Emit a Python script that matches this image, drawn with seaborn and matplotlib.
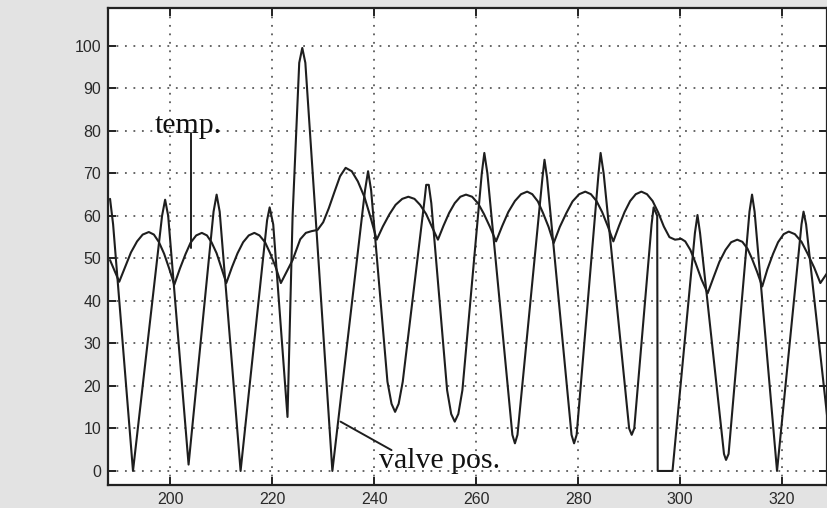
import matplotlib
matplotlib.use("Agg")
import seaborn as sns
from matplotlib import pyplot as plt

# valve position (x = sample, y = %)
valve_x = [188.2, 188.8, 192.7, 198.4, 199.0, 199.6, 203.6, 208.5, 209.1, 209.7,
           213.8, 219.0, 219.5, 220.2, 223.0, 224.0, 225.3, 225.9, 226.5, 228.5,
           231.8, 238.2, 238.8, 239.4, 242.6, 243.4, 244.1, 244.8, 245.6, 249.9,
           250.2, 250.7, 251.2, 254.3, 255.1, 255.8, 256.5, 257.3, 261.1, 261.6,
           262.2, 267.1, 267.6, 268.1, 273.0, 273.4, 273.9, 278.7, 279.2, 279.7,
           284.0, 284.4, 285.0, 290.0, 290.5, 291.0, 294.4, 294.8, 295.5, 295.6,
           298.5, 302.9, 303.4, 303.9, 308.6, 309.0, 309.5, 313.6, 314.1, 314.6,
           319.0, 323.8, 324.2, 324.7, 330.0]
valve_y = [64.0, 58.0, 0.0, 60.0, 63.8, 60.0, 1.5, 61.0, 65.0, 61.0,
           0.0, 59.0, 62.0, 58.0, 12.7, 60.0, 96.0, 99.5, 96.0, 60.0,
           0.0, 66.0, 70.5, 66.0, 21.0, 15.8, 13.9, 15.8, 21.0, 64.0,
           67.3, 67.3, 63.0, 19.0, 13.4, 11.6, 13.4, 19.0, 70.0, 74.8,
           70.0, 8.5, 6.5, 8.5, 69.0, 73.2, 69.0, 8.5, 6.5, 8.5,
           70.0, 74.8, 70.0, 10.0, 8.5, 10.0, 58.0, 62.0, 60.0, 0.0,
           0.0, 56.0, 60.2, 56.0, 4.0, 2.6, 4.0, 61.0, 65.0, 61.0,
           0.0, 58.0, 61.0, 58.0, 0.0]

# temperature trace
temp_x = [188.2, 190.0, 191.2, 192.3, 193.5, 194.6, 195.8, 196.8, 197.8, 198.8,
          199.8, 200.8, 201.9, 203.0, 204.0, 205.1, 206.2, 207.2, 208.1, 209.1,
          210.0, 211.0, 212.1, 213.2, 214.3, 215.4, 216.5, 217.5, 218.6, 219.6,
          220.7, 221.7, 224.0, 225.5, 226.6, 227.7, 228.9, 230.0, 231.1, 232.2,
          233.3, 234.4, 235.6, 236.8, 238.1, 239.3, 240.5, 241.7, 243.0, 244.2,
          245.5, 246.7, 247.9, 249.0, 250.2, 251.3, 252.5, 253.6, 254.7, 255.8,
          256.9, 258.0, 259.2, 260.4, 261.5, 262.7, 263.9, 265.1, 266.3, 267.6,
          268.8, 270.0, 271.0, 272.1, 273.1, 274.2, 275.2, 276.4, 277.7, 278.9,
          280.2, 281.4, 282.5, 283.6, 284.7, 285.8, 286.9, 288.0, 289.1, 290.2,
          291.3, 292.4, 293.5, 294.6, 295.7, 296.8, 297.9, 299.0, 300.2, 301.0,
          302.0, 303.0, 304.2, 305.4, 306.6, 307.7, 308.9, 310.0, 311.2, 312.2,
          313.2, 314.1, 315.1, 316.1, 317.1, 318.2, 319.2, 320.3, 321.3, 322.5,
          323.8, 325.0, 326.3, 327.5, 328.8]
temp_y = [49.6, 44.5, 48.1, 51.4, 54.0, 55.6, 56.2, 55.6, 53.8, 51.1,
          47.6, 43.8, 47.6, 51.0, 53.7, 55.4, 56.0, 55.4, 53.8, 51.2,
          47.9, 44.2, 47.9, 51.2, 53.8, 55.4, 56.0, 55.4, 53.8, 51.2,
          47.9, 44.2, 49.6, 54.5, 56.0, 56.4, 56.7, 58.5, 61.8, 65.6,
          69.3, 71.3, 70.5, 68.1, 64.4, 59.6, 54.4, 57.5, 60.4, 62.6,
          64.0, 64.5, 64.0, 62.6, 60.4, 57.5, 54.4, 57.7, 60.7, 63.0,
          64.5, 65.0, 64.5, 62.9, 60.5, 57.4, 54.0, 57.6, 60.9, 63.5,
          65.1, 65.7, 65.1, 63.4, 60.7, 57.4, 53.6, 57.4, 60.7, 63.4,
          65.1, 65.7, 65.1, 63.5, 60.9, 57.6, 54.0, 57.6, 60.9, 63.5,
          65.1, 65.7, 65.1, 63.5, 60.8, 57.5, 55.0, 54.4, 54.6, 54.0,
          52.0, 49.0, 45.0, 41.8, 45.7, 49.2, 52.0, 53.8, 54.4, 53.9,
          52.3, 49.9, 46.8, 43.4, 47.4, 51.0, 53.8, 55.7, 56.3, 55.7,
          53.9, 51.1, 47.8, 44.2, 46.5]

x_ticks = [200, 220, 240, 260, 280, 300, 320]
y_ticks = [0, 10, 20, 30, 40, 50, 60, 70, 80, 90, 100]

sns.set_style("ticks")
plt.rcParams["font.family"] = ["Liberation Sans", "DejaVu Sans"]

fig = plt.figure(figsize=(8.27, 5.08), dpi=100, facecolor="#e3e3e3")
ax = fig.add_axes([0.1306, 0.0453, 0.8694, 0.939])
ax.set_facecolor("white")

line_color = "#1e1e1e"
sns.lineplot(x=valve_x, y=valve_y, estimator=None, sort=False, ax=ax,
             color=line_color, linewidth=1.5)
sns.lineplot(x=temp_x, y=temp_y, estimator=None, sort=False, ax=ax,
             color=line_color, linewidth=1.5)

ax.set_xlim(187.8, 328.8)
ax.set_ylim(-3.3, 108.9)
ax.set_xticks(x_ticks)
ax.set_yticks(y_ticks)
ax.grid(True, color="#5a5a5a", linestyle=(0, (1, 3.7)), linewidth=1.3)
ax.tick_params(direction="in", length=6, width=1.4, colors="#222222",
               labelcolor="#2a2a2a", labelsize=11.5, top=True, right=True, pad=5)
for side in ["left", "bottom", "top", "right"]:
    ax.spines[side].set_color("#222222")
    ax.spines[side].set_linewidth(1.6)

# labels with leader lines
serif = ["Liberation Serif", "DejaVu Serif"]
ax.text(196.9, 79.5, "temp.", family=serif, fontsize=21.5, color="#111111")
ax.plot([204.0, 204.0], [79.5, 52.4], color=line_color, linewidth=1.4)
ax.text(240.9, 0.7, "valve pos.", family=serif, fontsize=21.5, color="#111111")
ax.plot([233.4, 243.4], [11.6, 4.9], color=line_color, linewidth=1.4)

plt.savefig("out.png", dpi=100, facecolor=fig.get_facecolor())
